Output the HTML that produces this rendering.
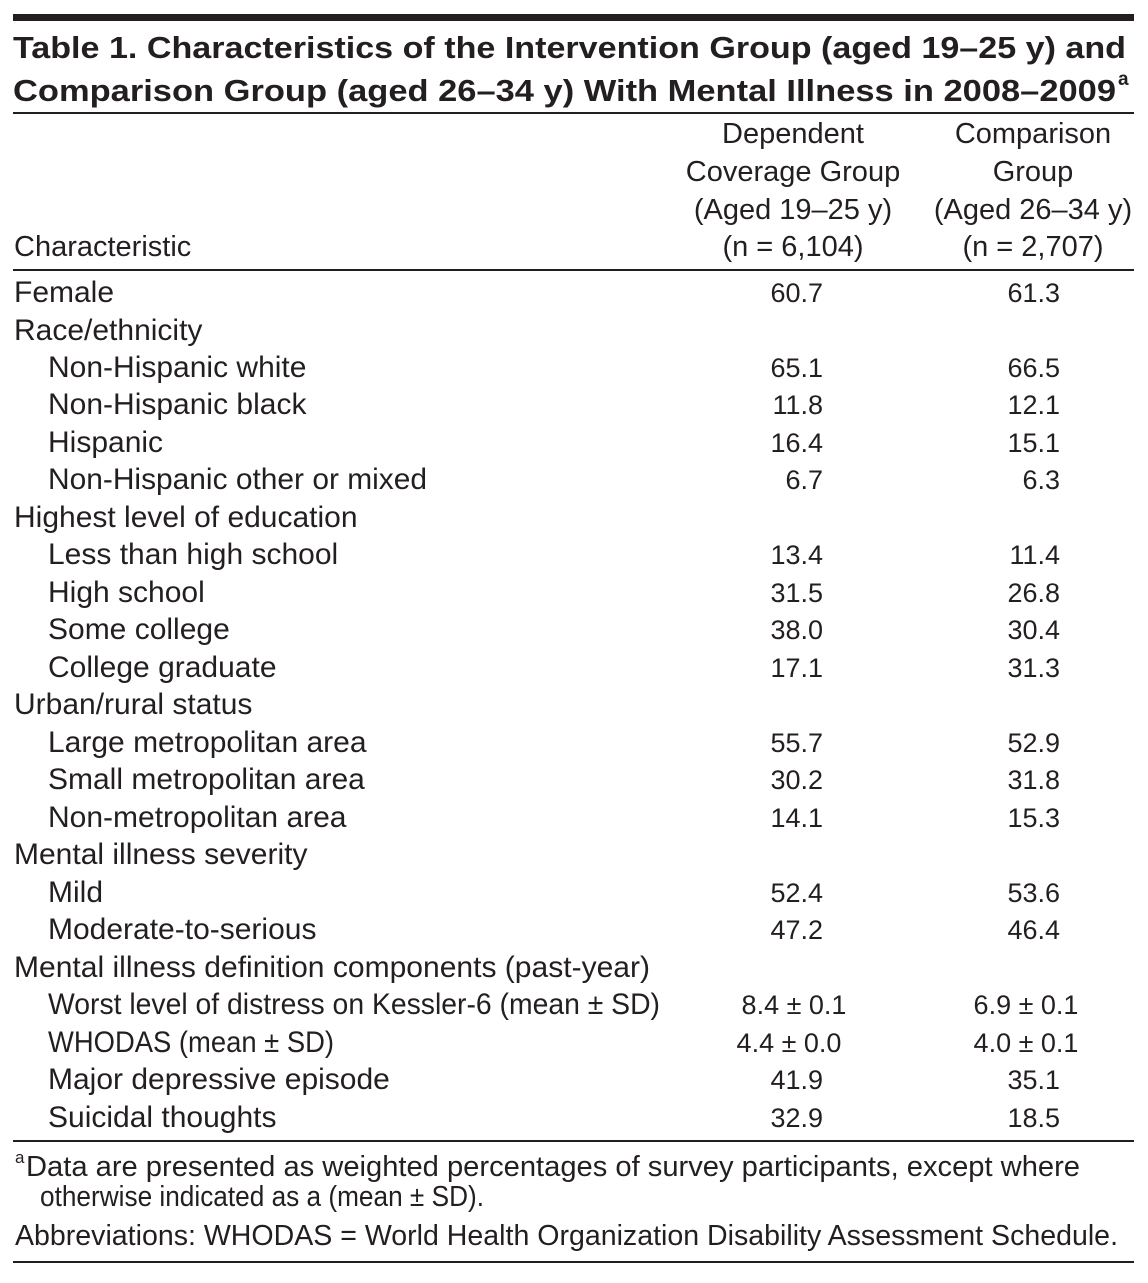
<!DOCTYPE html>
<html><head><meta charset="utf-8"><style>
html,body{margin:0;padding:0;background:#fff;}
svg{display:block;font-family:"Liberation Sans",sans-serif;fill:#231f20;}
.t{font-weight:bold;font-size:31px;}
.b{font-size:29px;}
.l{font-size:30px;}
.n{font-size:27px;}
.r{text-anchor:end;}
.c{text-anchor:middle;}
</style></head><body>
<svg width="1148" height="1283">
<rect x="13" y="14" width="1121" height="7" fill="#231f20"/>
<text class="t" x="13" y="58" textLength="1113" lengthAdjust="spacingAndGlyphs">Table 1. Characteristics of the Intervention Group (aged 19–25 y) and</text>
<text class="t" x="13" y="101" textLength="1103" lengthAdjust="spacingAndGlyphs">Comparison Group (aged 26–34 y) With Mental Illness in 2008–2009</text>
<text class="t" x="1118" y="85" style="font-size:19px">a</text>
<rect x="13" y="112" width="1121" height="2" fill="#231f20"/>
<g class="b">
<text class="c" x="793" y="143">Dependent</text>
<text class="c" x="793" y="181">Coverage Group</text>
<text class="c" x="793" y="219">(Aged 19–25 y)</text>
<text class="c" x="793" y="256">(n = 6,104)</text>
<text class="c" x="1033" y="143">Comparison</text>
<text class="c" x="1033" y="181">Group</text>
<text class="c" x="1033" y="219">(Aged 26–34 y)</text>
<text class="c" x="1033" y="256">(n = 2,707)</text>
<text x="14" y="256">Characteristic</text>
</g>
<rect x="13" y="269" width="1121" height="2" fill="#231f20"/>
<g class="l">
<text x="14" y="302">Female</text>
<text x="14" y="340">Race/ethnicity</text>
<text x="48" y="377">Non-Hispanic white</text>
<text x="48" y="414">Non-Hispanic black</text>
<text x="48" y="452">Hispanic</text>
<text x="48" y="489" textLength="379" lengthAdjust="spacingAndGlyphs">Non-Hispanic other or mixed</text>
<text x="14" y="527">Highest level of education</text>
<text x="48" y="564">Less than high school</text>
<text x="48" y="602">High school</text>
<text x="48" y="639">Some college</text>
<text x="48" y="677">College graduate</text>
<text x="14" y="714">Urban/rural status</text>
<text x="48" y="752">Large metropolitan area</text>
<text x="48" y="789">Small metropolitan area</text>
<text x="48" y="827">Non-metropolitan area</text>
<text x="14" y="864">Mental illness severity</text>
<text x="48" y="902">Mild</text>
<text x="48" y="939">Moderate-to-serious</text>
<text x="14" y="977" textLength="636" lengthAdjust="spacingAndGlyphs">Mental illness definition components (past-year)</text>
<text x="48" y="1014" textLength="612" lengthAdjust="spacingAndGlyphs">Worst level of distress on Kessler-6 (mean ± SD)</text>
<text x="48" y="1052" textLength="286" lengthAdjust="spacingAndGlyphs">WHODAS (mean ± SD)</text>
<text x="48" y="1089">Major depressive episode</text>
<text x="48" y="1127">Suicidal thoughts</text>
</g>
<g class="n">
<text class="r" x="823" y="302">60.7</text><text class="r" x="1060" y="302">61.3</text>
<text class="r" x="823" y="377">65.1</text><text class="r" x="1060" y="377">66.5</text>
<text class="r" x="823" y="414">11.8</text><text class="r" x="1060" y="414">12.1</text>
<text class="r" x="823" y="452">16.4</text><text class="r" x="1060" y="452">15.1</text>
<text class="r" x="823" y="489">6.7</text><text class="r" x="1060" y="489">6.3</text>
<text class="r" x="823" y="564">13.4</text><text class="r" x="1060" y="564">11.4</text>
<text class="r" x="823" y="602">31.5</text><text class="r" x="1060" y="602">26.8</text>
<text class="r" x="823" y="639">38.0</text><text class="r" x="1060" y="639">30.4</text>
<text class="r" x="823" y="677">17.1</text><text class="r" x="1060" y="677">31.3</text>
<text class="r" x="823" y="752">55.7</text><text class="r" x="1060" y="752">52.9</text>
<text class="r" x="823" y="789">30.2</text><text class="r" x="1060" y="789">31.8</text>
<text class="r" x="823" y="827">14.1</text><text class="r" x="1060" y="827">15.3</text>
<text class="r" x="823" y="902">52.4</text><text class="r" x="1060" y="902">53.6</text>
<text class="r" x="823" y="939">47.2</text><text class="r" x="1060" y="939">46.4</text>
<text class="c" x="794" y="1014">8.4 ± 0.1</text><text class="c" x="1026" y="1014">6.9 ± 0.1</text>
<text class="c" x="789" y="1052">4.4 ± 0.0</text><text class="c" x="1026" y="1052">4.0 ± 0.1</text>
<text class="r" x="823" y="1089">41.9</text><text class="r" x="1060" y="1089">35.1</text>
<text class="r" x="823" y="1127">32.9</text><text class="r" x="1060" y="1127">18.5</text>
</g>
<rect x="13" y="1140" width="1121" height="2" fill="#231f20"/>
<g class="b">
<text x="15" y="1163" style="font-size:17px">a</text>
<text x="26" y="1176" textLength="1054" lengthAdjust="spacingAndGlyphs">Data are presented as weighted percentages of survey participants, except where</text>
<text x="40" y="1206" textLength="444" lengthAdjust="spacingAndGlyphs">otherwise indicated as a (mean ± SD).</text>
<text x="15" y="1245" textLength="1103" lengthAdjust="spacingAndGlyphs">Abbreviations: WHODAS = World Health Organization Disability Assessment Schedule.</text>
</g>
<rect x="13" y="1261" width="1121" height="2" fill="#231f20"/>
</svg>
</body></html>
